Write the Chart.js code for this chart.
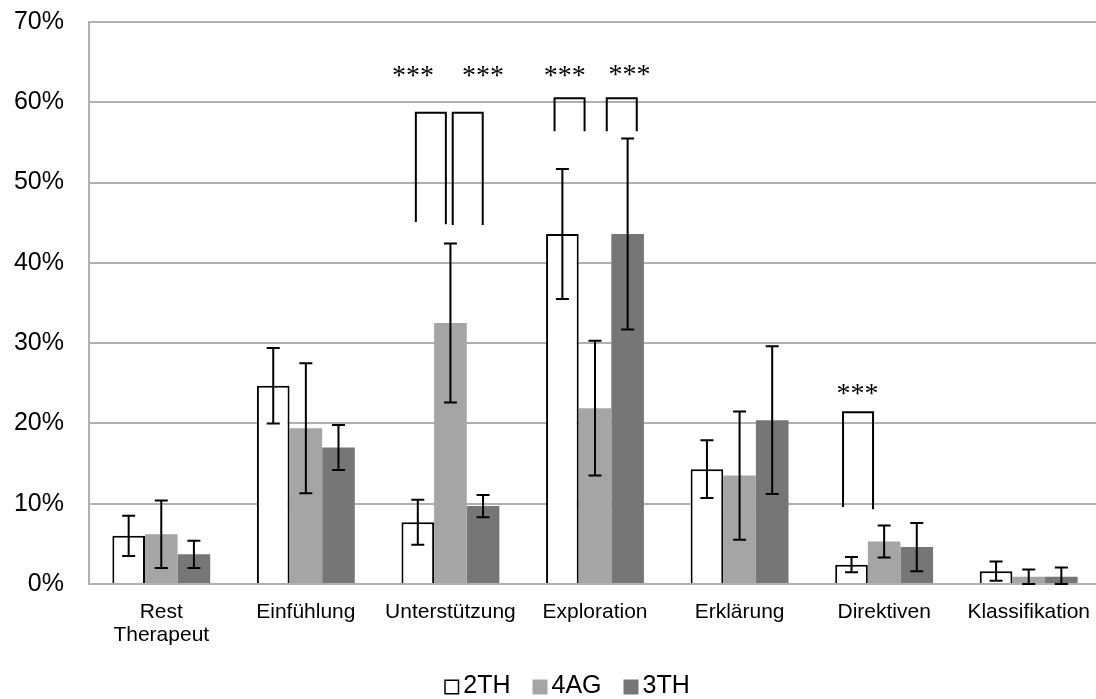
<!DOCTYPE html>
<html>
<head>
<meta charset="utf-8">
<script src="https://cdn.jsdelivr.net/npm/chart.js@4"></script>
<style>
  html, body { margin: 0; padding: 0; background: #fff; overflow: hidden; }
  #wrap { width: 1110px; height: 699px; }
</style>
</head>
<body>
<div id="wrap"><canvas id="codeChart"></canvas></div>
<script>
const categories = [['Rest', 'Therapeut'], 'Einfühlung', 'Unterstützung', 'Exploration', 'Erklärung', 'Direktiven', 'Klassifikation'];
const seriesNames = ['2TH', '4AG', '3TH'];
const values2TH = [6.0, 24.7, 7.7, 43.6, 14.3, 2.4, 1.6];
const values4AG = [6.2, 19.4, 32.5, 21.9, 13.5, 5.3, 0.9];
const values3TH = [3.7, 17.0, 9.7, 43.6, 20.4, 4.6, 0.9];
const err2TH = [2.5, 4.7, 2.8, 8.1, 3.6, 0.95, 1.2];
const err4AG = [4.2, 8.1, 9.9, 8.4, 8.0, 2.0, 0.9];
const err3TH = [1.7, 2.8, 1.4, 11.9, 9.2, 3.0, 1.15];
const yTicks = [0, 10, 20, 30, 40, 50, 60, 70];

// significance brackets: category, left/right in bar widths from group centre, y values in %
const brackets = [
  { cat: 2, from: -1.06, to: -0.14, top: 58.7, left: 45.1, right: 44.8 },
  { cat: 2, from: 0.07, to: 0.99, top: 58.7, left: 44.7, right: 44.7 },
  { cat: 3, from: -1.24, to: -0.32, top: 60.5, left: 56.4, right: 56.4 },
  { cat: 3, from: 0.36, to: 1.28, top: 60.5, left: 56.4, right: 56.4 },
  { cat: 5, from: -1.26, to: -0.34, top: 21.4, left: 9.6, right: 9.3 }
];
const stars = [
  { cat: 2, at: -1.15, y: 64.0 },
  { cat: 2, at: 1.0, y: 64.0 },
  { cat: 3, at: -0.93, y: 64.0 },
  { cat: 3, at: 1.06, y: 64.2 },
  { cat: 5, at: -0.82, y: 24.4 }
];

const errors = [err2TH, err4AG, err3TH];

const extras = {
  id: 'extras',
  afterDatasetsDraw(chart) {
    const ctx = chart.ctx;
    const x = chart.scales.x, y = chart.scales.y;
    ctx.save();
    ctx.strokeStyle = '#000';
    ctx.lineWidth = 2;
    // error bars
    chart.data.datasets.forEach((ds, i) => {
      chart.getDatasetMeta(i).data.forEach((bar, j) => {
        const v = ds.data[j], e = errors[i][j];
        const yt = y.getPixelForValue(v + e);
        const yb = y.getPixelForValue(Math.max(0, v - e));
        ctx.beginPath();
        ctx.moveTo(bar.x, yt); ctx.lineTo(bar.x, yb);
        ctx.moveTo(bar.x - 6.5, yt); ctx.lineTo(bar.x + 6.5, yt);
        ctx.moveTo(bar.x - 6.5, yb); ctx.lineTo(bar.x + 6.5, yb);
        ctx.stroke();
      });
    });
    const bw = chart.getDatasetMeta(0).data[0].width;
    brackets.forEach(b => {
      const c = x.getPixelForValue(b.cat);
      const x1 = c + b.from * bw, x2 = c + b.to * bw;
      ctx.beginPath();
      ctx.moveTo(x1, y.getPixelForValue(b.left));
      ctx.lineTo(x1, y.getPixelForValue(b.top));
      ctx.lineTo(x2, y.getPixelForValue(b.top));
      ctx.lineTo(x2, y.getPixelForValue(b.right));
      ctx.stroke();
    });
    ctx.fillStyle = '#000';
    ctx.font = '28px "Liberation Serif"';
    ctx.textAlign = 'center';
    ctx.textBaseline = 'alphabetic';
    stars.forEach(s => {
      const c = x.getPixelForValue(s.cat);
      ctx.fillText('***', c + s.at * bw, y.getPixelForValue(s.y) + 14);
    });
    ctx.restore();
  },
  afterDraw(chart) {
    const ctx = chart.ctx;
    ctx.save();
    ctx.font = '25px "Liberation Sans"';
    const box = 15, gap = 4, space = 22;
    const widths = chart.data.datasets.map(ds => box + gap + ctx.measureText(ds.label).width);
    const total = widths.reduce((a, b) => a + b, 0) + space * (widths.length - 1);
    let cx = 567 - total / 2;
    const cy = 687;
    ctx.textBaseline = 'middle';
    ctx.textAlign = 'left';
    chart.data.datasets.forEach((ds, i) => {
      ctx.fillStyle = ds.backgroundColor;
      ctx.fillRect(cx, cy - box / 2, box, box);
      if (ds.borderWidth) {
        ctx.strokeStyle = '#000';
        ctx.lineWidth = 1.5;
        ctx.strokeRect(cx + 0.75, cy - box / 2 + 0.75, box - 1.5, box - 1.5);
      }
      ctx.fillStyle = '#000';
      ctx.fillText(ds.label, cx + box + gap, cy - 1);
      cx += widths[i] + space;
    });
    ctx.restore();
  }
};

new Chart(document.getElementById('codeChart'), {
  type: 'bar',
  data: {
    labels: categories,
    datasets: [
      { label: seriesNames[0], data: values2TH, backgroundColor: '#ffffff', borderColor: '#000000', borderWidth: 2 },
      { label: seriesNames[1], data: values4AG, backgroundColor: '#a5a5a5', borderWidth: 0 },
      { label: seriesNames[2], data: values3TH, backgroundColor: '#767676', borderWidth: 0 }
    ]
  },
  options: {
    responsive: true,
    maintainAspectRatio: false,
    animation: false,
    layout: { padding: { top: 22, right: 9, bottom: 0, left: 0 } },
    datasets: { bar: { categoryPercentage: 0.677, barPercentage: 1.0 } },
    plugins: { legend: { display: false }, tooltip: { enabled: false } },
    scales: {
      x: {
        grid: { display: false },
        border: { color: '#b0b0b0', width: 2 },
        ticks: { color: '#000', font: { family: 'Liberation Sans', size: 21, lineHeight: 1.1 }, padding: 9, maxRotation: 0 },
        afterFit(scale) { scale.height = 115; }
      },
      y: {
        min: 0,
        max: 70,
        afterBuildTicks(scale) { scale.ticks = yTicks.map(v => ({ value: v })); },
        grid: { color: '#b0b0b0', lineWidth: 2, drawTicks: true, tickLength: 25, tickColor: 'rgba(0,0,0,0)' },
        border: { color: '#b0b0b0', width: 2 },
        ticks: {
          color: '#000',
          font: { family: 'Liberation Sans', size: 25 },
          padding: 0,
          callback: v => v + '%'
        },
        afterFit(scale) { scale.width = 89; }
      }
    }
  },
  plugins: [extras]
});
</script>
</body>
</html>
